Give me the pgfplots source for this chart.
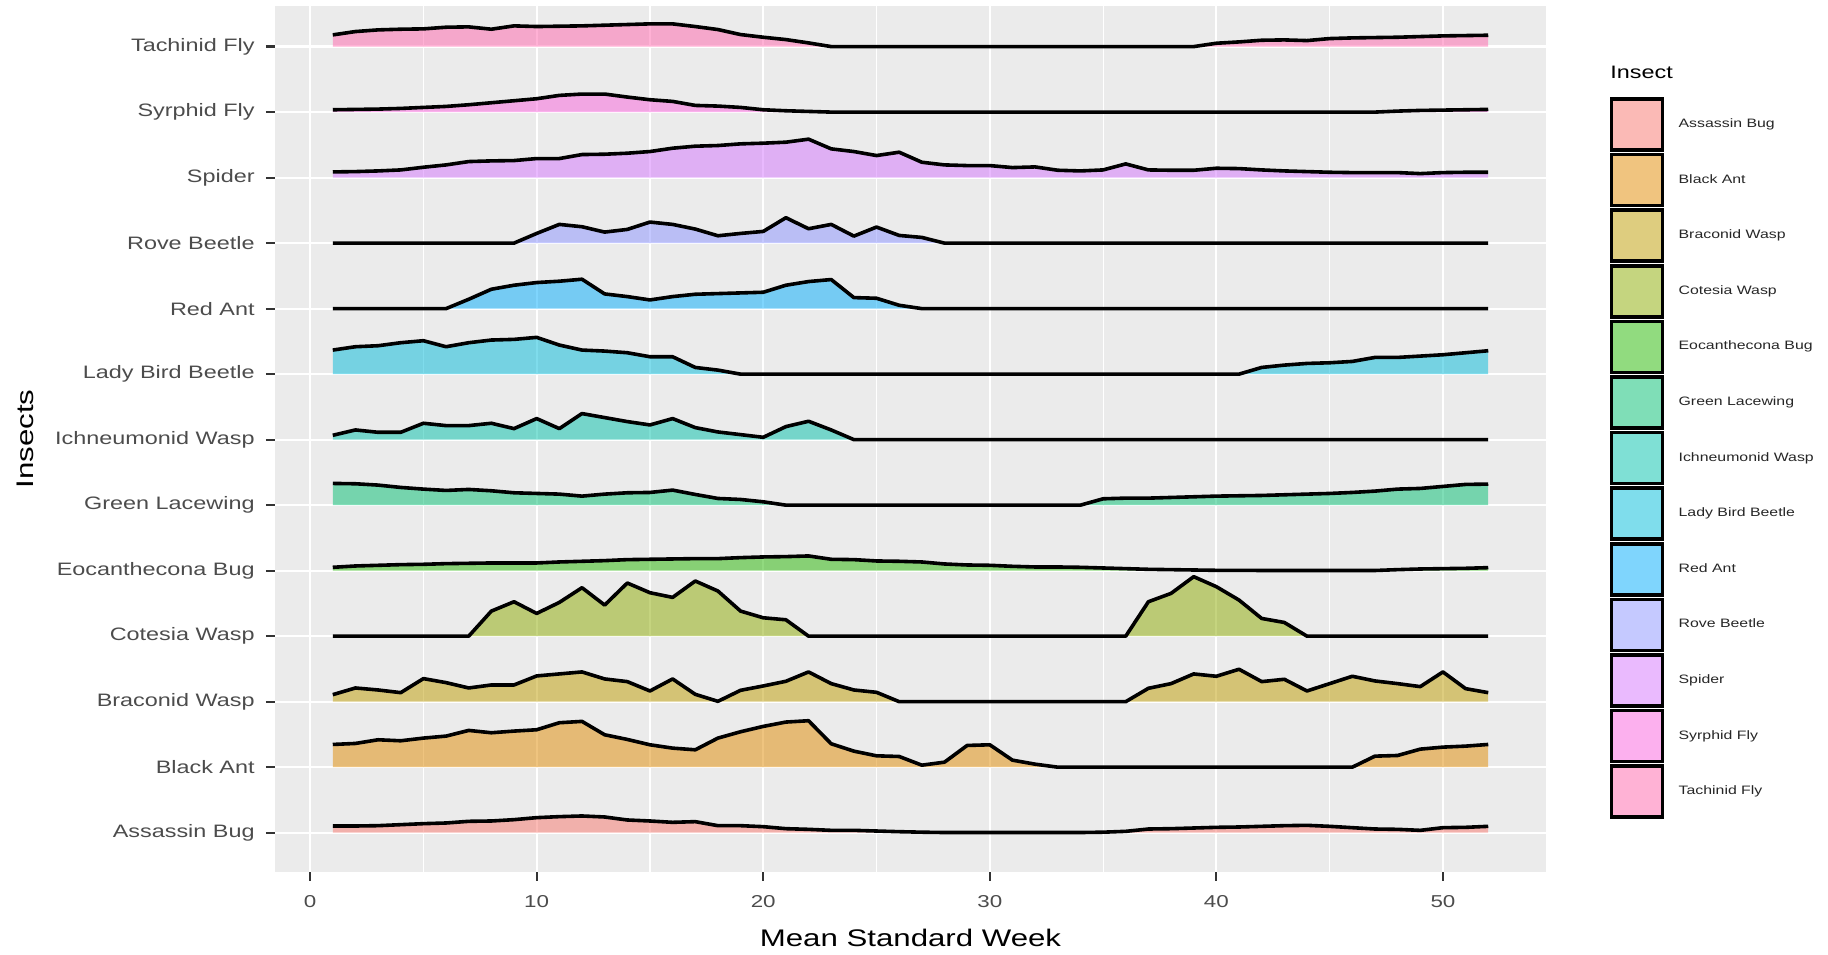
\documentclass[border=0pt]{standalone}
\usepackage{graphicx}
\usepackage{fontspec}
\setmainfont{Liberation Sans}
\usepackage{pgfplots}
\usepackage{pgfplotstable}
\pgfplotsset{compat=1.18}
\usepgfplotslibrary{fillbetween}
\usetikzlibrary{calc}
\newcommand{\sx}[1]{\scalebox{1.3}[1]{#1}}

\definecolor{cA}{HTML}{F8766D}
\definecolor{cB}{HTML}{E18A00}
\definecolor{cC}{HTML}{BE9C00}
\definecolor{cD}{HTML}{8CAB00}
\definecolor{cE}{HTML}{24B700}
\definecolor{cF}{HTML}{00BE70}
\definecolor{cG}{HTML}{00C1AB}
\definecolor{cH}{HTML}{00BBDA}
\definecolor{cI}{HTML}{00ACFC}
\definecolor{cJ}{HTML}{8B93FF}
\definecolor{cK}{HTML}{D575FE}
\definecolor{cL}{HTML}{F962DD}
\definecolor{cM}{HTML}{FF65AC}

% heights: 196 = one row spacing
\pgfplotstableread{
w tach syr spi rove red lady ich green eoc cot brac black ass
1 35 7 17 0 0 72 13 65 10 0 21 68 20
2 45 8 18 0 0 82 29 64 14 0 41 71 20
3 50 9 20 0 0 85 22 60 16 0 35 82 21
4 52 11 23 0 0 94 22 53 18 0 27 79 24
5 53 14 31 0 0 100 49 48 19 0 69 87 27
6 58 17 38 0 0 82 42 44 21 0 57 93 29
7 59 22 48 0 28 94 42 47 22 0 41 110 34
8 52 28 50 0 58 102 49 43 23 75 50 103 35
9 62 34 51 0 70 104 33 37 23 103 50 108 39
10 60 40 57 29 78 110 63 35 23 68 77 112 45
11 61 50 57 56 82 87 33 33 26 101 83 133 48
12 62 54 69 49 88 72 78 27 28 145 89 137 50
13 64 54 70 33 44 69 66 33 30 93 68 97 47
14 66 45 73 41 36 64 54 37 33 159 60 83 38
15 68 37 78 63 26 52 44 38 34 130 32 67 35
16 68 32 88 56 36 52 63 45 35 116 68 57 31
17 60 20 94 42 43 20 36 32 36 165 22 52 33
18 51 18 96 22 45 12 23 20 36 135 1 87 21
19 36 14 101 29 47 0 15 17 39 75 34 106 21
20 28 7 103 35 49 0 7 10 41 55 47 122 18
21 21 4 106 76 70 0 39 0 42 49 61 135 12
22 11 2 115 43 81 0 55 0 44 0 89 139 10
23 0 0 86 56 87 0 29 0 34 0 54 70 7
24 0 0 78 21 33 0 0 0 33 0 35 48 7
25 0 0 66 48 31 0 0 0 29 0 28 34 5
26 0 0 76 23 10 0 0 0 28 0 0 32 3
27 0 0 46 17 0 0 0 0 26 0 0 6 1.5
28 0 0 38 0 0 0 0 0 20 0 0 15 0.5
29 0 0 36 0 0 0 0 0 17 0 0 65 0.5
30 0 0 36 0 0 0 0 0 16 0 0 67 0.5
31 0 0 30 0 0 0 0 0 13 0 0 21 0.5
32 0 0 32 0 0 0 0 0 11 0 0 9 0.5
33 0 0 22 0 0 0 0 0 11 0 0 0 0.5
34 0 0 20 0 0 0 0 0 10 0 0 0 0.5
35 0 0 23 0 0 0 0 19 8 0 0 0 1.5
36 0 0 41 0 0 0 0 21 6 0 0 0 4
37 0 0 23 0 0 0 0 21 4 103 40 0 11
38 0 0 22 0 0 0 0 23 3 128 54 0 12
39 0 0 22 0 0 0 0 25 2 178 83 0 14
40 10 0 28 0 0 0 0 27 1 148 76 0 16
41 14 0 27 0 0 0 0 28 1 108 97 0 17
42 19 0 23 0 0 20 0 29 0.5 53 60 0 19
43 20 0 20 0 0 27 0 31 0.5 41 67 0 21
44 18 0 18 0 0 32 0 33 0.5 0 32 0 22
45 24 0 16 0 0 34 0 35 0.5 0 54 0 19
46 26 0 15 0 0 38 0 38 0.5 0 76 0 15
47 27 0 15 0 0 50 0 42 0.5 0 62 33 11
48 28 3 15 0 0 50 0 48 3 0 54 35 10
49 30 5 12 0 0 54 0 50 5 0 45 54 7
50 32 6 15 0 0 58 0 56 6 0 89 60 15
51 33 7 16 0 0 64 0 62 7 0 39 63 16
52 34 8 16 0 0 70 0 63 9 0 27 68 19
}\data

\newcommand{\ridge}[3]{%
  \addplot[draw=none, name path=t#2, forget plot] table[x=w, y expr=\thisrow{#1}/196+#2]{\data};
  \addplot[draw=none, name path=b#2, forget plot] coordinates {(1,#2) (52,#2)};
  \addplot[fill=#3, fill opacity=0.5, draw=none, forget plot] fill between[of=t#2 and b#2];
  \addplot[black, line width=1.8pt, line join=round, forget plot] table[x=w, y expr=\thisrow{#1}/196+#2]{\data};
}

\begin{document}
\begin{tikzpicture}
\begin{axis}[
  scale only axis, width=635.5pt, height=433pt,
  xmin=-1.55, xmax=54.55, ymin=-0.6, ymax=12.62,
  clip=false,
  axis background/.style={fill=black!8},
  axis line style={draw=none},
  xtick={0,10,20,30,40,50},
  xticklabels={\sx{0},\sx{10},\sx{20},\sx{30},\sx{40},\sx{50}},
  minor xtick={5,15,25,35,45},
  ytick={0,1,2,3,4,5,6,7,8,9,10,11,12},
  yticklabels={\sx{Assassin Bug},\sx{Black Ant},\sx{Braconid Wasp},\sx{Cotesia Wasp},\sx{Eocanthecona Bug},\sx{Green Lacewing},\sx{Ichneumonid Wasp},\sx{Lady Bird Beetle},\sx{Red Ant},\sx{Rove Beetle},\sx{Spider},\sx{Syrphid Fly},\sx{Tachinid Fly}},
  grid=both,
  major grid style={white, line width=1.1pt},
  minor grid style={white, line width=0.55pt},
  tick pos=left,
  tick align=outside,
  major tick length=4.5pt,
  minor tick length=0pt,
  tick style={black!80, line width=1.1pt},
  xticklabel style={font=\fontsize{8.6}{10}\selectfont, text=black!70, inner sep=0pt, anchor=north, yshift=-7pt},
  yticklabel style={font=\fontsize{9}{10}\selectfont, text=black!70, inner sep=0pt, anchor=east, xshift=-5.5pt},
  xlabel={\sx{Mean Standard Week}},
  ylabel={\sx{Insects}},
  xlabel style={at={(rel axis cs:0.5,-0.0863)}, anchor=base, font=\fontsize{12}{14}\selectfont, inner sep=0pt},
  ylabel style={at={(rel axis cs:-0.1904,0.5)}, anchor=base, font=\fontsize{12}{14}\selectfont, inner sep=0pt},
  legend cell align=left,
  legend style={at={(rel axis cs:1.0451,0.8997)}, anchor=north west, draw=none, fill=none,
    nodes={inner sep=0pt}, row sep=0.5pt, font=\fontsize{6.1}{7}\selectfont, text=black!85,
    /tikz/every odd column/.append style={column sep=7.15pt}},
  legend image code/.code={\draw[#1, draw=black, line width=1.8pt] (0pt,-12.75pt) rectangle (25.5pt,12.75pt);},
]
\ridge{tach}{12}{cM}
\ridge{syr}{11}{cL}
\ridge{spi}{10}{cK}
\ridge{rove}{9}{cJ}
\ridge{red}{8}{cI}
\ridge{lady}{7}{cH}
\ridge{ich}{6}{cG}
\ridge{green}{5}{cF}
\ridge{eoc}{4}{cE}
\ridge{cot}{3}{cD}
\ridge{brac}{2}{cC}
\ridge{black}{1}{cB}
\ridge{ass}{0}{cA}

\addlegendimage{fill=cA, fill opacity=0.5}\addlegendentry{\sx{Assassin Bug}}
\addlegendimage{fill=cB, fill opacity=0.5}\addlegendentry{\sx{Black Ant}}
\addlegendimage{fill=cC, fill opacity=0.5}\addlegendentry{\sx{Braconid Wasp}}
\addlegendimage{fill=cD, fill opacity=0.5}\addlegendentry{\sx{Cotesia Wasp}}
\addlegendimage{fill=cE, fill opacity=0.5}\addlegendentry{\sx{Eocanthecona Bug}}
\addlegendimage{fill=cF, fill opacity=0.5}\addlegendentry{\sx{Green Lacewing}}
\addlegendimage{fill=cG, fill opacity=0.5}\addlegendentry{\sx{Ichneumonid Wasp}}
\addlegendimage{fill=cH, fill opacity=0.5}\addlegendentry{\sx{Lady Bird Beetle}}
\addlegendimage{fill=cI, fill opacity=0.5}\addlegendentry{\sx{Red Ant}}
\addlegendimage{fill=cJ, fill opacity=0.5}\addlegendentry{\sx{Rove Beetle}}
\addlegendimage{fill=cK, fill opacity=0.5}\addlegendentry{\sx{Spider}}
\addlegendimage{fill=cL, fill opacity=0.5}\addlegendentry{\sx{Syrphid Fly}}
\addlegendimage{fill=cM, fill opacity=0.5}\addlegendentry{\sx{Tachinid Fly}}

\node[anchor=base west, inner sep=0pt, font=\fontsize{9}{10}\selectfont] at (rel axis cs:1.0503,0.9157) {\sx{Insect}};
\end{axis}
\pgfresetboundingbox
\path[use as bounding box] ($(current axis.south west)+(-137.5pt,-41.5pt)$) rectangle ($(current axis.north east)+(141pt,3pt)$);
\end{tikzpicture}
\end{document}
